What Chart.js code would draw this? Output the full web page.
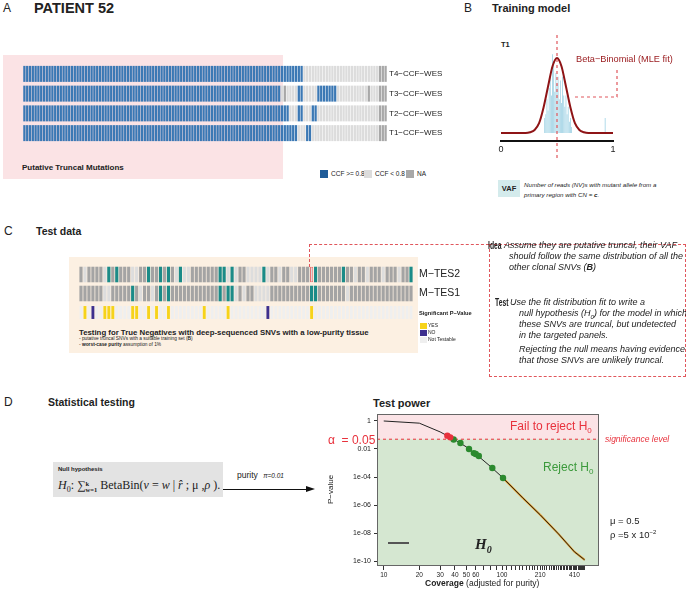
<!DOCTYPE html>
<html>
<head>
<meta charset="utf-8">
<script src="https://cdn.jsdelivr.net/npm/chart.js@4.4.1/dist/chart.umd.min.js"></script>
<style>
  body { margin: 0; background: #fff; font-family: 'Liberation Sans', Arial, sans-serif; color: #222; }
  #page { position: relative; width: 686px; height: 590px; overflow: hidden; }
  .t { position: absolute; white-space: nowrap; line-height: 1; }
  .b { font-weight: bold; }
  .i { font-style: italic; }
  .cond { transform: scaleX(0.68); transform-origin: left top; }
  .sq { position: absolute; }
  canvas { position: absolute; }
  .dash { position: absolute; border: 0 dashed #e0565c; }
</style>
</head>
<body>
<div id="page">
  <!-- A -->
  <div class="t" style="left:3px;top:2px;font-size:12px">A</div>
  <div class="t b" style="left:34px;top:1px;font-size:14.5px">PATIENT 52</div>
  <div class="sq" style="left:3px;top:55px;width:280px;height:124px;background:#fbe3e5"></div>
  <canvas id="ccfChart" width="440" height="79" style="left:23px;top:64px"></canvas>
  <div class="t b" style="left:22px;top:164px;font-size:8px">Putative Truncal Mutations</div>
  <div class="sq" style="left:320px;top:170px;width:8px;height:8px;background:#1f5c99"></div>
  <div class="t" style="left:331px;top:171px;font-size:6.5px">CCF &gt;= 0.8</div>
  <div class="sq" style="left:364px;top:170px;width:8px;height:8px;background:#dcdcdc"></div>
  <div class="t" style="left:375px;top:171px;font-size:6.5px">CCF &lt; 0.8</div>
  <div class="sq" style="left:406px;top:170px;width:8px;height:8px;background:#a8a8a8"></div>
  <div class="t" style="left:417px;top:171px;font-size:6.5px">NA</div>

  <!-- B -->
  <div class="t" style="left:464px;top:2px;font-size:12px">B</div>
  <div class="t b" style="left:492px;top:2.5px;font-size:11px">Training model</div>
  <div class="t b" style="left:501px;top:41px;font-size:7.5px">T1</div>
  <canvas id="vafChart" width="130" height="130" style="left:495px;top:30px"></canvas>
  <div class="t" style="left:576px;top:55px;font-size:9.2px;color:#9b1d20">Beta−Binomial (MLE fit)</div>
  <div class="sq" style="left:498px;top:180px;width:22px;height:17px;background:#d4ebec"></div>
  <div class="t b" style="left:498px;top:185px;width:22px;text-align:center;font-size:7.5px">VAF</div>
  <div class="t i" style="left:524px;top:180px;font-size:6.2px;line-height:10px">Number of reads (NV)s with mutant allele from a<br>primary region with CN = <b>c</b>.</div>

  <!-- C -->
  <div class="t" style="left:4px;top:225px;font-size:12px">C</div>
  <div class="t b" style="left:36px;top:226px;font-size:10.5px">Test data</div>
  <div class="sq" style="left:69px;top:257px;width:349px;height:96px;background:#fcf0e2"></div>
  <canvas id="tesChart" width="389" height="57" style="left:79px;top:265px"></canvas>
  <div class="t b" style="left:79px;top:329px;font-size:7.8px">Testing for True Negatives with deep-sequenced SNVs with a low-purity tissue</div>
  <div class="t" style="left:79px;top:337px;font-size:4.8px">- putative truncal SNVs with a suitable training set (<b>B</b>)</div>
  <div class="t" style="left:79px;top:343px;font-size:4.8px">- <b>worst-case purity</b> assumption of 1%</div>
  <div class="t b" style="left:419px;top:311px;font-size:5.7px">Significant P−Value</div>
  <div class="sq" style="left:420px;top:323px;width:7px;height:6px;background:#f6d31a"></div>
  <div class="t" style="left:428px;top:323px;font-size:5px">YES</div>
  <div class="sq" style="left:420px;top:330px;width:7px;height:6px;background:#3d2f8e"></div>
  <div class="t" style="left:428px;top:330px;font-size:5px">NO</div>
  <div class="sq" style="left:420px;top:337px;width:7px;height:6px;background:#efefef"></div>
  <div class="t" style="left:428px;top:337px;font-size:5px">Not Testable</div>

  <div class="dash" style="left:309px;top:244px;width:0;height:23px;border-left-width:1px"></div>
  <div class="dash" style="left:309px;top:244px;width:180px;height:0;border-top-width:1px"></div>
  <div class="dash" style="left:489px;top:244px;width:195px;height:131px;border-width:1px"></div>
  <div class="t b cond" style="left:488px;top:241px;font-size:10px">Idea</div>
  <div class="t i" style="left:504px;top:241px;font-size:9px">Assume they are putative truncal, their VAF</div>
  <div class="t i" style="left:509px;top:252px;font-size:9px">should follow the same distribution of all the</div>
  <div class="t i" style="left:509px;top:263px;font-size:9px">other clonal SNVs (<b>B</b>)</div>
  <div class="t b cond" style="left:495px;top:298px;font-size:10px">Test</div>
  <div class="t i" style="left:510px;top:298px;font-size:9px">Use the fit distribution fit to write a</div>
  <div class="t i" style="left:519px;top:309px;font-size:9px">null hypothesis (H<sub style="font-size:6px">0</sub>) for the model in which</div>
  <div class="t i" style="left:519px;top:320px;font-size:9px">these SNVs are truncal, but undetected</div>
  <div class="t i" style="left:519px;top:331px;font-size:9px">in the targeted panels.</div>
  <div class="t i" style="left:519px;top:345px;font-size:9px">Rejecting the null means having evidence</div>
  <div class="t i" style="left:519px;top:356px;font-size:9px">that those SNVs are unlikely truncal.</div>

  <!-- D -->
  <div class="t" style="left:4px;top:396px;font-size:12px">D</div>
  <div class="t b" style="left:48px;top:397px;font-size:10.5px">Statistical testing</div>
  <div class="sq" style="left:53px;top:462px;width:170px;height:35px;background:#e3e3e3"></div>
  <div class="t b" style="left:58px;top:466px;font-size:6px">Null hypothesis</div>
  <div class="t" style="left:58px;top:479px;font-size:12px;font-family:'Liberation Serif',serif"><i>H</i><sub style="font-size:8px">0</sub>: ∑<span style="display:inline-block;vertical-align:-3px;font-size:6.5px;line-height:6px;font-weight:bold">k<br>w=1</span> BetaBin(<i>v</i> = <i>w</i> | <i>r̂</i> ; μ ,<i>ρ</i> ).</div>
  <div class="sq" style="left:223px;top:489px;width:85px;height:1.3px;background:#111"></div>
  <div class="sq" style="left:306px;top:486px;width:0;height:0;border-top:3.5px solid transparent;border-bottom:3.5px solid transparent;border-left:9px solid #111"></div>
  <div class="t" style="left:237px;top:471px;font-size:8.5px">purity <span style="font-size:6.5px;font-style:italic;margin-left:3px">π=0.01</span></div>

  <div class="t b" style="left:373px;top:398px;font-size:11px">Test power</div>
  <canvas id="powerChart" width="275" height="170" style="left:328px;top:410px"></canvas>
  <div class="t" style="left:327px;top:504px;font-size:8px;transform:rotate(-90deg);transform-origin:left top">P−value</div>
  <div class="t" style="left:425px;top:579px;font-size:8.5px"><b>Coverage</b> (adjusted for purity)</div>
  <div class="t" style="left:510px;top:420px;font-size:12px;color:#e8313c">Fail to reject H<sub style="font-size:8px">0</sub></div>
  <div class="t" style="left:543px;top:461px;font-size:12px;color:#3b9a3b">Reject H<sub style="font-size:8px">0</sub></div>
  <div class="t" style="left:328px;top:434px;font-size:12px;color:#e8313c">α&nbsp; = 0.05</div>
  <div class="t i" style="left:605px;top:435px;font-size:8.5px;color:#e8313c">significance level</div>
  <div class="sq" style="left:388px;top:542px;width:21px;height:2px;background:#555"></div>
  <div class="t" style="left:475px;top:537px;font-size:15px;font-family:'Liberation Serif',serif;font-style:italic;font-weight:bold">H<sub style="font-size:10px">0</sub></div>
  <div class="t" style="left:610px;top:516px;font-size:9.5px">μ = 0.5</div>
  <div class="t" style="left:610px;top:529px;font-size:9.5px">ρ =5 x 10<sup style="font-size:6px">−2</sup></div>
</div>

<script>
Chart.defaults.font.family = "'Liberation Sans', Arial, sans-serif";
Chart.defaults.color = '#222';

// ---- A: CCF heatmap, run-length per region (bottom to top) ----
const sampleLabels = ['T1−CCF−WES', 'T2−CCF−WES', 'T3−CCF−WES', 'T4−CCF−WES'];
const t1Runs = [['hi', 98], ['lo', 3], ['hi', 2], ['lo', 24], ['na', 3]];
const t2Runs = [['hi', 95], ['lo', 3], ['hi', 2], ['lo', 3], ['hi', 2], ['lo', 22], ['na', 3]];
const t3Runs = [['hi', 92], ['lo', 1], ['na', 1], ['lo', 4], ['hi', 2], ['lo', 5], ['hi', 7], ['lo', 11], ['na', 1], ['lo', 3], ['na', 3]];
const t4Runs = [['hi', 100], ['lo', 27], ['na', 3]];
const ccfColors = { hi: '#3b78b4', lo: '#dcdcdc', na: '#a8a8a8' };

function expand(runs) {
  const out = [];
  runs.forEach(([k, n]) => { for (let i = 0; i < n; i++) out.push(k); });
  return out;
}

// fixed label gutter, no tick-label padding eating the plot
const fixY = w => s => { s.width = w; s.paddingTop = 0; s.paddingBottom = 0; };
const fixX = h => s => { s.height = h; s.paddingLeft = 0; s.paddingRight = 0; };
const noGrid = { display: false, drawTicks: false };

const ccfRows = [t1Runs, t2Runs, t3Runs, t4Runs].map(expand);
const mutationIds = ccfRows[0].map((_, i) => i + 1);

new Chart(document.getElementById('ccfChart'), {
  type: 'bar',
  data: {
    labels: mutationIds,
    datasets: ccfRows.map((row, r) => ({
      data: row.map(() => [r - 0.405, r + 0.405]),
      backgroundColor: row.map(k => ccfColors[k]),
      grouped: false,
      barPercentage: 0.82,
      categoryPercentage: 1
    }))
  },
  options: {
    responsive: false,
    animation: false,
    plugins: { legend: { display: false }, tooltip: { enabled: false } },
    scales: {
      x: { display: false },
      y: {
        position: 'right', min: -0.5, max: 3.5,
        grid: noGrid, border: { display: false },
        afterBuildTicks: a => { a.ticks = sampleLabels.map((_, i) => ({ value: i })); },
        afterFit: fixY(76),
        ticks: { padding: 2, font: { size: 8 }, callback: v => sampleLabels[v] }
      }
    }
  }
});

// ---- B: VAF histogram + Beta-Binomial fit ----
const vafBins   = [0.39, 0.40, 0.41, 0.42, 0.43, 0.44, 0.45, 0.46, 0.47, 0.48, 0.49, 0.50, 0.51,
                   0.52, 0.53, 0.54, 0.55, 0.56, 0.57, 0.58, 0.59, 0.60, 0.61, 0.62, 0.63, 0.93];
const vafCounts = [0.2, 0.25, 0.45, 0.3, 0.6, 0.75, 0.5, 1.05, 0.9, 0.55, 0.8, 0.65, 0.75,
                   0.45, 0.7, 0.4, 0.75, 0.5, 0.35, 0.5, 0.25, 0.35, 0.15, 0.2, 0.08, 0.2];
const fitVaf     = [0, 0.22, 0.26, 0.30, 0.34, 0.38, 0.42, 0.46, 0.50, 0.54, 0.58, 0.62, 0.66, 0.70, 0.74, 0.78, 1];
const fitDensity = [0, 0, 0.01, 0.04, 0.13, 0.34, 0.62, 0.89, 1, 0.89, 0.62, 0.34, 0.13, 0.04, 0.01, 0, 0];
const fitMean = 0.5;
const vafTicks = [0, 1];

const vafGuides = {
  id: 'vafGuides',
  afterDatasetsDraw(chart) {
    const { ctx, chartArea, scales } = chart;
    const xm = scales.x.getPixelForValue(fitMean);
    ctx.save();
    ctx.strokeStyle = '#e0565c';
    ctx.lineWidth = 1.2;
    ctx.setLineDash([3, 3]);
    ctx.beginPath();
    ctx.moveTo(xm, chartArea.top);
    ctx.lineTo(xm, chart.height);
    // callout from the label down to the curve
    const xr = chartArea.right + 4;
    const yl = scales.y.getPixelForValue(0.48);
    ctx.moveTo(xr, scales.y.getPixelForValue(0.84));
    ctx.lineTo(xr, yl);
    ctx.lineTo(scales.x.getPixelForValue(0.635), yl);
    ctx.stroke();
    ctx.restore();
  }
};

new Chart(document.getElementById('vafChart'), {
  type: 'bar',
  data: {
    datasets: [
      {
        type: 'line',
        data: fitVaf.map((x, i) => ({ x, y: fitDensity[i] })),
        borderColor: '#8e1416', borderWidth: 2, pointRadius: 0,
        cubicInterpolationMode: 'monotone', order: 0
      },
      {
        type: 'bar',
        data: vafBins.map((x, i) => ({ x, y: vafCounts[i] })),
        backgroundColor: '#9fd2e4',
        barPercentage: 0.72, categoryPercentage: 1, order: 1
      }
    ]
  },
  options: {
    responsive: false,
    animation: false,
    layout: { padding: { left: 6, right: 12, top: 5 } },
    plugins: { legend: { display: false }, tooltip: { enabled: false } },
    scales: {
      x: {
        type: 'linear', min: 0, max: 1, offset: false,
        grid: noGrid,
        border: { display: true, color: '#111', width: 2 },
        afterBuildTicks: a => { a.ticks = vafTicks.map(v => ({ value: v })); },
        afterFit: fixX(19),
        ticks: { font: { size: 9 }, padding: 3 }
      },
      y: { display: false, min: -0.107, max: 1.307 }
    }
  },
  plugins: [vafGuides]
});

// ---- C: targeted panel calls (84 SNVs) ----
const tesLabels = ['', 'M−TES1', 'M−TES2'];
const mtes2Calls = 'glggggltgt' + 'gggllggtgg' + 'tgtgltllgg' + 'gggggttltl' + 'gglllltlgg' +
                   'lggllgggot' + 'ggggggtggl' + 'gglggglggg' + 'lggt';
const mtes1Calls = 'ggggggllgg' + 'gggtglgglg' + 'tgtggggggg' + 'gggggtgttl' + 'glggllllgg' +
                   'ggggggggtt' + 'ggggggglgg' + 'gggggggggg' + 'gggg';
const sigCalls   = 'nynpnnyyyn' + 'nnnyynnyny' + 'nnynnnnnnn' + 'nynnnnnynn' + 'nnnnnnnpnn' +
                   'nnnnnnnnyn' + 'nnnnnnnnnn' + 'nnnnnnnnnn' + 'nnnn';
const callColors = { t: '#1b8b88', g: '#a4a4a4', l: '#dddddd', o: '#e2d6d6',
                     y: '#f6d31a', p: '#3d2f8e', n: '#efefef' };

const tesRows = [sigCalls, mtes1Calls, mtes2Calls].map(s => s.split(''));

new Chart(document.getElementById('tesChart'), {
  type: 'bar',
  data: {
    labels: tesRows[0].map((_, i) => i + 1),
    datasets: tesRows.map((row, r) => ({
      data: row.map(() => r === 0 ? [r - 0.34, r + 0.34] : [r - 0.41, r + 0.41]),
      backgroundColor: row.map(k => callColors[k]),
      borderColor: row.map(k => k === 'o' ? '#e57373' : 'rgba(0,0,0,0)'),
      borderWidth: row.map(k => k === 'o' ? 1 : 0),
      borderSkipped: false,
      grouped: false,
      barPercentage: r === 0 ? 0.72 : 0.8,
      categoryPercentage: 1
    }))
  },
  options: {
    responsive: false,
    animation: false,
    plugins: { legend: { display: false }, tooltip: { enabled: false } },
    scales: {
      x: { display: false },
      y: {
        position: 'right', min: -0.5, max: 2.5,
        grid: noGrid, border: { display: false },
        afterBuildTicks: a => { a.ticks = tesLabels.map((_, i) => ({ value: i })); },
        afterFit: fixY(55),
        ticks: { padding: 6, font: { size: 10.5 }, callback: v => tesLabels[v] }
      }
    }
  }
});

// ---- D: test power ----
const coverage = [10, 20, 30, 36, 40, 50, 60, 80, 100, 150, 210, 300, 410, 500];
const pValue   = [1, 0.7, 0.166, 0.072, 0.045, 0.014, 0.0044, 5.6e-4, 1e-4, 3.2e-6, 2e-7, 8.7e-9, 4.5e-10, 1.2e-10];
const failCoverage = [34.5, 36.5];
const failPValue   = [0.09, 0.068];
const passCoverage = [39, 44.5, 52.6, 57.8, 60, 63.7, 82.8, 102];
const passPValue   = [0.048, 0.027, 0.01, 0.0051, 0.0044, 0.0032, 4.4e-4, 8.5e-5];
const alpha = 0.05;
const coverageTicks = [10, 20, 30, 40, 50, 60, 70, 80, 90, 100, 110, 120, 130, 140, 150, 160, 170, 180, 190, 200,
                       210, 220, 230, 240, 250, 260, 270, 280, 290, 300, 310, 320, 330, 340, 350, 360, 370, 380,
                       390, 400, 410, 420, 430, 440, 450, 460, 470, 480, 490, 500];
const coverageLabels = [10, 20, 30, 40, 50, 60, 100, 210, 410];
const pTicks = [1, 1e-2, 1e-4, 1e-6, 1e-8, 1e-10];
const pTickLabels = ['1', '0.01', '1e-04', '1e-06', '1e-08', '1e-10'];
const covMin = 8.77, covMax = 661;

const bands = {
  id: 'bands',
  beforeDatasetsDraw(chart) {
    const { ctx, chartArea: a, scales } = chart;
    const yA = scales.y.getPixelForValue(alpha);
    ctx.save();
    ctx.fillStyle = '#fbe3e6';
    ctx.fillRect(a.left, a.top, a.right - a.left, yA - a.top);
    ctx.fillStyle = '#d5e7d1';
    ctx.fillRect(a.left, yA, a.right - a.left, a.bottom - yA);
    ctx.restore();
  },
  afterDraw(chart) {
    const { ctx, chartArea: a } = chart;
    ctx.save();
    ctx.strokeStyle = '#666';
    ctx.lineWidth = 1;
    ctx.strokeRect(a.left + 0.5, a.top + 0.5, a.right - a.left - 1, a.bottom - a.top - 1);
    ctx.restore();
  }
};

const pts = (xs, ys) => xs.map((x, i) => ({ x, y: ys[i] }));

new Chart(document.getElementById('powerChart'), {
  type: 'line',
  data: {
    datasets: [
      { data: pts(failCoverage, failPValue), showLine: false, pointRadius: 3.2,
        pointBackgroundColor: '#e8313c', pointBorderWidth: 0, order: 0 },
      { data: pts(passCoverage, passPValue), showLine: false, pointRadius: 3.2,
        pointBackgroundColor: '#2b8a2e', pointBorderWidth: 0, order: 0 },
      { data: pts(coverage, pValue), borderColor: '#222', borderWidth: 1, pointRadius: 0, order: 1 },
      { data: pts(coverage, pValue).filter(p => p.x >= 100), borderColor: '#e39a24', borderWidth: 2,
        pointRadius: 0, order: 2 },
      { data: [{ x: covMin, y: alpha }, { x: covMax, y: alpha }], borderColor: '#e8313c', borderWidth: 1,
        borderDash: [3, 3], pointRadius: 0, order: 3 }
    ]
  },
  options: {
    responsive: false,
    animation: false,
    layout: { padding: { top: 4, right: 4 } },
    plugins: { legend: { display: false }, tooltip: { enabled: false } },
    scales: {
      x: {
        type: 'logarithmic', min: covMin, max: covMax,
        grid: { drawOnChartArea: false, tickLength: 4, color: '#333' },
        border: { display: false },
        afterBuildTicks: a => { a.ticks = coverageTicks.map(v => ({ value: v })); },
        afterFit: fixX(14),
        ticks: { autoSkip: false, maxRotation: 0, padding: 1, font: { size: 6.5 },
                 callback: v => coverageLabels.includes(v) ? String(v) : '' }
      },
      y: {
        type: 'logarithmic', min: 4.4e-11, max: 3.16,
        grid: { drawOnChartArea: false, tickLength: 3, color: '#333' },
        border: { display: false },
        afterBuildTicks: a => { a.ticks = pTicks.map(v => ({ value: v })); },
        afterFit: fixY(49),
        ticks: { padding: 3, font: { size: 7 }, callback: (v, i) => pTickLabels[i] }
      }
    }
  },
  plugins: [bands]
});
</script>
</body>
</html>
